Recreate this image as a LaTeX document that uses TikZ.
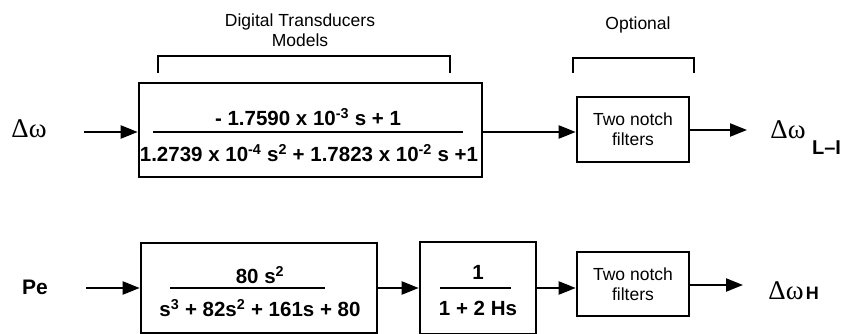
\documentclass[tikz,border=0pt]{standalone}
\usepackage{fontspec}
\setmainfont{Liberation Sans}
\newfontfamily\greekfont{Liberation Serif}
\usepackage{tikz}
\usetikzlibrary{arrows.meta,calc}

\begin{document}
\begin{tikzpicture}[x=1pt,y=-1pt,>={Triangle[length=17pt,width=13pt]},line width=2.2pt]
	\useasboundingbox (0,0) rectangle (845,334);
	\clip (0,0) rectangle (845,334);
	\tikzset{
		blk/.style={draw,line width=2.6pt,inner sep=0pt},
		lbl/.style={font=\fontsize{17.5}{20}\selectfont,align=center,inner sep=0pt},
		frm/.style={font=\fontsize{20.5}{24}\selectfont\bfseries,inner sep=0pt},
		sig/.style={font=\fontsize{27}{30}\greekfont,inner sep=0pt},
		brk/.style={line width=2pt},
	}
	% % % % % % % % % % % % % % %
	%上面一行
	\node[sig] (in1) at (29,129) {Δω};
	\coordinate (s1) at (84,132);
	\node[blk,minimum width=343pt,minimum height=94pt] (tf) at (310.5,130) {};
	\node[frm] (tfnum) at (308,117) {- 1.7590 x 10\textsuperscript{-3} s + 1};
	\draw[line width=2.5pt] (153,132) -- (463,132);
	\node[frm] (tfden) at (309,153) {1.2739 x 10\textsuperscript{-4} s\textsuperscript{2} + 1.7823 x 10\textsuperscript{-2} s +1};
	\node[blk,lbl,minimum width=112pt,minimum height=65pt] (nf1) at (633,129.5) {Two notch\\filters};
	\coordinate (e1) at (747,130);
	\node[sig] (out1) at (788,130) {Δω};
	\node[font=\fontsize{20}{24}\selectfont\bfseries,inner sep=0pt,anchor=west] (out1sub) at (811,147.5) {L–I};
	%括号
	\node[lbl] (dtm) at (300,30) {Digital Transducers\\Models};
	\draw[brk] (158,73) -- (158,56) -- (450,56) -- (450,73);
	\node[lbl] (opt) at (638,25) {Optional};
	\draw[brk] (573,73) -- (573,58) -- (694,58) -- (694,73);
	%箭头
	\draw[->] (s1) -- (s1 -| tf.west);
	\draw[->] (tf.east |- s1) -- (s1 -| nf1.west);
	\draw[->] (nf1.east |- e1) -- (e1);
	% % % % % % % % % % % % % % %
	%下面一行
	\node[font=\fontsize{21}{24}\selectfont\bfseries,inner sep=0pt] (in2) at (35,287) {Pe};
	\coordinate (s2) at (86,288);
	\node[blk,minimum width=236pt,minimum height=90pt] (g1) at (259,288) {};
	\node[frm] (g1num) at (260,275) {80 s\textsuperscript{2}};
	\draw[line width=2.5pt] (170,288) -- (325,288);
	\node[frm] (g1den) at (260,308) {s\textsuperscript{3} + 82s\textsuperscript{2} + 161s + 80};
	\node[blk,minimum width=116pt,minimum height=92pt] (g2) at (478,288) {};
	\node[frm] (g2num) at (478,272) {1};
	\draw[line width=2.5pt] (440,288) -- (511,288);
	\node[frm] (g2den) at (478,308) {1 + 2 Hs};
	\node[blk,lbl,minimum width=112pt,minimum height=64pt] (nf2) at (633,284) {Two notch\\filters};
	\coordinate (e2) at (743,285);
	\node[sig] (out2) at (786,291) {Δω};
	\node[font=\fontsize{18}{20}\selectfont\bfseries,inner sep=0pt,anchor=base west] (out2sub) at (out2.base east) {H};
	%箭头
	\draw[->] (s2) -- (s2 -| g1.west);
	\draw[->] (g1.east |- s2) -- (s2 -| g2.west);
	\draw[->] (g2.east |- s2) -- (s2 -| nf2.west);
	\draw[->] (nf2.east |- e2) -- (e2);
\end{tikzpicture}
\end{document}
